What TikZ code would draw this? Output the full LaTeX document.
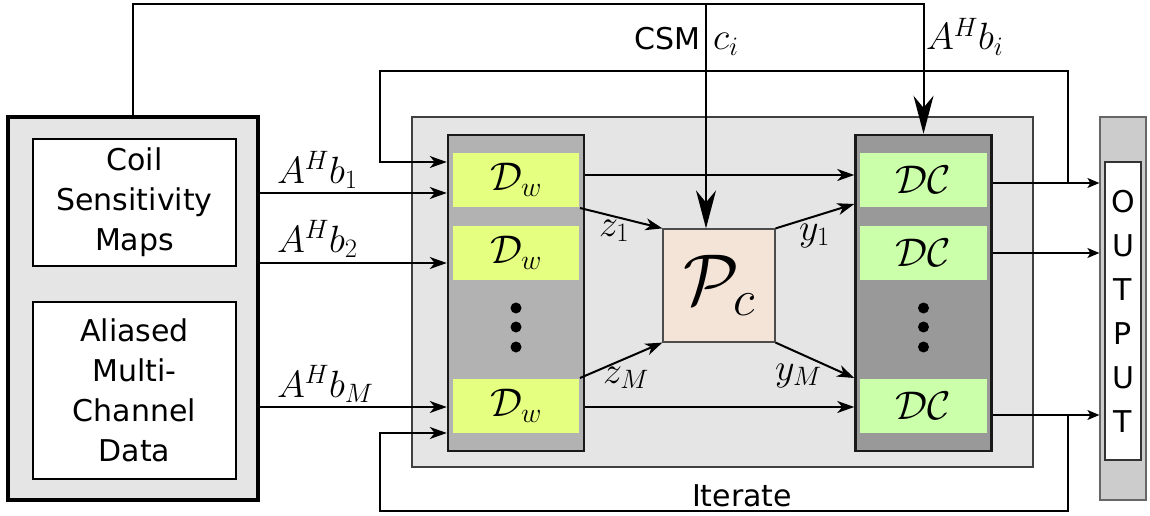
\RequirePackage{fix-cm}
\documentclass[tikz,border=0pt]{standalone}
\usepackage{fontspec}
\newfontfamily\dejavu{DejaVu Sans}
\usetikzlibrary{arrows.meta}
\definecolor{dwgreen}{HTML}{E5FF80}
\definecolor{dcgreen}{HTML}{CCFFAA}
\definecolor{pcpeach}{HTML}{F4E3D7}
\tikzset{
  txt/.style={font=\dejavu\fontsize{30}{40}\selectfont, align=center},
  lbl/.style={font=\fontsize{38}{40}\selectfont},
  blk/.style={rectangle, font=\fontsize{40}{44}\selectfont},
  col/.style={draw=black!90, line width=2.5pt, minimum width=136, minimum height=316},
  big/.style={-{Stealth[length=38pt,width=20pt,inset=12pt]}},
  thin/.style={line width=1.6pt},
  small/.style={-{Stealth[length=12pt,width=10pt,inset=3pt]}, thin}
}
\begin{document}
\begin{tikzpicture}[x=1pt, y=-1pt, line width=2pt, every node/.style={inner sep=0pt}, >={Stealth[length=17pt,width=12pt,inset=5pt]}]
    \useasboundingbox (0,0) rectangle (1150,516);
    \node[draw, line width=3.5pt, fill=black!10, minimum width=250, minimum height=383] (src) at (133,308.5) {};
    \node[txt, draw, line width=2pt, fill=white, minimum width=203, minimum height=127] (coil) at (134.5,202.5) {Coil\\Sensitivity\\Maps};
    \node[txt, draw, line width=2pt, fill=white, minimum width=203, minimum height=177] (data) at (134.5,390.5) {Aliased\\Multi-\\Channel\\Data};
    \node[draw=black!75, line width=1.2pt, fill=black!10, minimum width=621, minimum height=350] (iter) at (722.5,292) {};
    \node[col, fill=black!30] (dwcol) at (516,293) {};
    \node[col, fill=black!40] (dccol) at (923.5,293) {};
    \node[blk, fill=dwgreen, minimum width=126, minimum height=54] (dw1) at (516,180) {$\mathcal{D}_w$};
    \node[blk, fill=dwgreen, minimum width=126, minimum height=54] (dw2) at (516,253) {$\mathcal{D}_w$};
    \node[blk, fill=dwgreen, minimum width=126, minimum height=54] (dwm) at (516,406) {$\mathcal{D}_w$};
    \node[blk, fill=dcgreen, minimum width=127, minimum height=54] (dc1) at (923.5,180) {$\mathcal{DC}$};
    \node[blk, fill=dcgreen, minimum width=127, minimum height=54] (dc2) at (923.5,253) {$\mathcal{DC}$};
    \node[blk, fill=dcgreen, minimum width=127, minimum height=54] (dcm) at (923.5,406) {$\mathcal{DC}$};
    \fill (516,308) circle[radius=5.5pt];
    \fill (516,327) circle[radius=5.5pt];
    \fill (516,347) circle[radius=5.5pt];
    \fill (923.5,308) circle[radius=5.5pt];
    \fill (923.5,327) circle[radius=5.5pt];
    \fill (923.5,347) circle[radius=5.5pt];
    \node[draw=black!70, line width=1.2pt, fill=pcpeach, minimum width=112, minimum height=113, font=\fontsize{72}{80}\selectfont] (pc) at (719,285.5) {$\mathcal{P}_c$};
    \node[draw=black!60, line width=1.2pt, fill=black!20, minimum width=46, minimum height=383] (out) at (1123,308.5) {};
    \node[txt, draw=black!80, line width=1.5pt, fill=white, minimum width=36, minimum height=298, font=\dejavu\fontsize{30}{44}\selectfont] (outtxt) at (1123,311) {O\\U\\T\\P\\U\\T};
    \coordinate (topl) at (133,4);
    \coordinate (csm) at (706,4);
    \coordinate (lpr) at (1068,71);
    \coordinate (lpl) at (380,71);
    \coordinate (btr) at (1068,511);
    \coordinate (btl) at (380,511);
    \draw[big] (src.north) -- (topl) -| (dccol.north);
    \draw[big] (csm) -- (csm |- pc.north);
    \draw[->] (src.east |- 0,193) -- (dwcol.west |- 0,193);
    \draw[->] (src.east |- 0,263) -- (dwcol.west |- 0,263);
    \draw[->] (src.east |- 0,407) -- (dwcol.west |- 0,407);
    \draw[->] (dwcol.east |- 0,175) -- (dccol.west |- 0,175);
    \draw[->] (dwcol.east |- 0,407) -- (dccol.west |- 0,407);
    \draw[->] (dw1.south east) -- (pc.north west);
    \draw[->] (dwm.north east) -- (pc.south west);
    \draw[->] (pc.north east) -- (dccol.west |- 0,204);
    \draw[->] (pc.south east) -- (dccol.west |- 0,378);
    \draw[small] (dccol.east |- 0,183) -- (out.west |- 0,183);
    \draw[small] (dccol.east |- 0,253) -- (out.west |- 0,253);
    \draw[small] (dccol.east |- 0,415) -- (out.west |- 0,415);
    \draw[->, thin] (lpr |- 0,183) -- (lpr) -- (lpl) -- (lpl |- 0,162) -- (dwcol.west |- 0,162);
    \draw[->, thin] (btr |- 0,415) -- (btr) -- (btl) -- (btl |- 0,433) -- (dwcol.west |- 0,433);
    \node[txt, anchor=base east] (csmlbl) at (701,50) {CSM};
    \node[lbl, anchor=base west] (cilbl) at (712,50) {$c_i$};
    \node[lbl, anchor=base west] (bilbl) at (925,50) {$A^H b_i$};
    \node[lbl, anchor=base west] (b1lbl) at (276,183) {$A^H b_1$};
    \node[lbl, anchor=base west] (b2lbl) at (276,252) {$A^H b_2$};
    \node[lbl, anchor=base west] (bmlbl) at (276,397) {$A^H b_M$};
    \node[lbl, anchor=base west] (z1lbl) at (598,236) {$z_1$};
    \node[lbl, anchor=base west] (y1lbl) at (798,240) {$y_1$};
    \node[lbl, anchor=base west] (zmlbl) at (602,383) {$z_M$};
    \node[lbl, anchor=base west] (ymlbl) at (774,380) {$y_M$};
    \node[txt, anchor=base] (itlbl) at (742,506) {Iterate};
\end{tikzpicture}
\end{document}
